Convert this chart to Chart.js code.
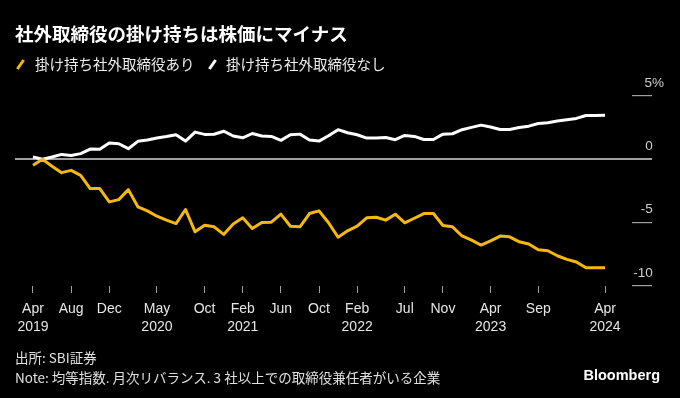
<!DOCTYPE html>
<html>
<head>
<meta charset="utf-8">
<script src="https://cdn.jsdelivr.net/npm/chart.js@4.4.1/dist/chart.umd.min.js"></script>
<style>
  html, body { margin: 0; padding: 0; background: #000; }
  #wrap { position: relative; width: 680px; height: 398px; background: #000; overflow: hidden; }
  #chart { position: absolute; left: 0; top: 0; }
  .txt { position: absolute; white-space: nowrap; font-family: "Noto Sans CJK JP", sans-serif; color: #fff; }
  #title { left: 15px; top: 21px; font-size: 18.5px; font-weight: bold; line-height: 24px; }
  .leg { top: 54px; font-size: 14.5px; line-height: 20px; color: #eee; }
  .sw { position: absolute; top: 59px; width: 3px; height: 11px; transform: rotate(35deg); }
  .foot { left: 15px; font-size: 13.5px; line-height: 20px; color: #e0e0e0; }
  #logo { right: 20px; top: 365px; font-family: "Liberation Sans", sans-serif; font-weight: bold; font-size: 14.5px; line-height: 20px; color: #fff; }
</style>
</head>
<body>
<div id="wrap">
  <canvas id="chart" width="680" height="398"></canvas>
  <div id="title" class="txt">社外取締役の掛け持ちは株価にマイナス</div>
  <div class="sw" style="left:19px; background:#f6b80f;"></div>
  <div class="txt leg" style="left:35px;">掛け持ち社外取締役あり</div>
  <div class="sw" style="left:211px; background:#fff;"></div>
  <div class="txt leg" style="left:226px;">掛け持ち社外取締役なし</div>
  <div class="txt foot" style="top:347px;">出所: SBI証券</div>
  <div class="txt foot" style="top:367px;">Note: 均等指数. 月次リバランス. 3 社以上での取締役兼任者がいる企業</div>
  <div id="logo" class="txt">Bloomberg</div>
</div>
<script>
// monthly, Apr 2019 .. Apr 2024 (index 0..60), % change
const seriesNames = ['掛け持ち社外取締役あり', '掛け持ち社外取締役なし'];

const withDual = [
  -0.47, 0.00, -0.55, -1.05, -0.87, -1.26, -2.31, -2.31, -3.36, -3.18,
  -2.39, -3.75, -4.07, -4.49, -4.80, -5.07, -3.96, -5.72, -5.20, -5.33,
  -5.93, -5.10, -4.62, -5.46, -4.99, -4.96, -4.33, -5.28, -5.33, -4.28,
  -4.07, -5.01, -6.15, -5.64, -5.28, -4.62, -4.57, -4.80, -4.33, -5.01,
  -4.65, -4.28, -4.28, -5.22, -5.33, -6.05, -6.38, -6.77, -6.43, -6.06,
  -6.12, -6.51, -6.69, -7.14, -7.22, -7.61, -7.90, -8.11, -8.56, -8.56,
  -8.56
];

const withoutDual = [
  0.18, 0.00, 0.18, 0.39, 0.31, 0.45, 0.81, 0.79, 1.29, 1.23,
  0.84, 1.42, 1.52, 1.68, 1.80, 1.94, 1.44, 2.15, 1.97, 1.98,
  2.22, 1.84, 1.70, 2.04, 1.84, 1.81, 1.50, 1.94, 1.99, 1.53,
  1.44, 1.86, 2.34, 2.10, 1.94, 1.68, 1.68, 1.73, 1.55, 1.89,
  1.81, 1.57, 1.57, 1.99, 2.02, 2.34, 2.52, 2.70, 2.55, 2.36,
  2.36, 2.52, 2.62, 2.83, 2.89, 3.02, 3.12, 3.23, 3.46, 3.46,
  3.49
];

const tickIdx = [0, 4, 8, 13, 18, 22, 26, 30, 34, 39, 43, 48, 53, 60];
const tickMonth = ['Apr', 'Aug', 'Dec', 'May', 'Oct', 'Feb', 'Jun', 'Oct', 'Feb', 'Jul', 'Nov', 'Apr', 'Sep', 'Apr'];
const tickYear = ['2019', '', '', '2020', '', '2021', '', '', '2022', '', '', '2023', '', '2024'];
const yTicks = [-10, -5, 0, 5];

const YELLOW = '#f6b80f';
const GRAY = '#a0a0a0';

function toPoints(arr) {
  return arr.map((v, i) => ({ x: i, y: v }));
}

new Chart(document.getElementById('chart'), {
  type: 'line',
  data: {
    datasets: [
      { label: seriesNames[0], data: toPoints(withDual), borderColor: YELLOW, borderWidth: 3,
        pointRadius: 0, tension: 0, borderJoinStyle: 'round' },
      { label: seriesNames[1], data: toPoints(withoutDual), borderColor: '#fff', borderWidth: 3,
        pointRadius: 0, tension: 0, borderJoinStyle: 'round' }
    ]
  },
  options: {
    responsive: false,
    animation: false,
    events: [],
    layout: { padding: { top: 96, left: 15, right: 16, bottom: 63 } },
    plugins: {
      legend: { display: false },
      title: { display: false },
      tooltip: { enabled: false }
    },
    scales: {
      x: {
        type: 'linear',
        min: -1.888,
        max: 62.83,
        border: { display: false },
        grid: { drawOnChartArea: false, drawTicks: true, tickLength: 7, color: GRAY, lineWidth: 1 },
        afterBuildTicks: s => { s.ticks = tickIdx.map(v => ({ value: v })); },
        afterFit: s => { s.height = 49; },
        ticks: {
          autoSkip: false, maxRotation: 0, minRotation: 0, padding: 7, color: '#e6e6e6',
          font: { family: 'Liberation Sans', size: 14, lineHeight: 1.27 },
          callback: v => {
            const k = tickIdx.indexOf(v);
            return k < 0 ? '' : [tickMonth[k], tickYear[k]];
          }
        }
      },
      y: {
        position: 'right',
        min: -10,
        max: 5,
        border: { display: false },
        afterBuildTicks: s => { s.ticks = yTicks.map(v => ({ value: v })); },
        afterFit: s => { s.width = 32; },
        grid: {
          color: c => (c.tick && c.tick.value === 0) ? GRAY : 'rgba(0,0,0,0)',
          tickColor: GRAY,
          lineWidth: c => (c.tick && c.tick.value === 0) ? 2 : 1.2,
          tickLength: 20
        },
        ticks: {
          crossAlign: 'far', labelOffset: -13, padding: 0, color: '#d0d0d0',
          font: { family: 'Liberation Sans', size: 13.5 },
          callback: v => v === 5 ? '5%' : v + '   '
        }
      }
    }
  }
});
</script>
</body>
</html>
